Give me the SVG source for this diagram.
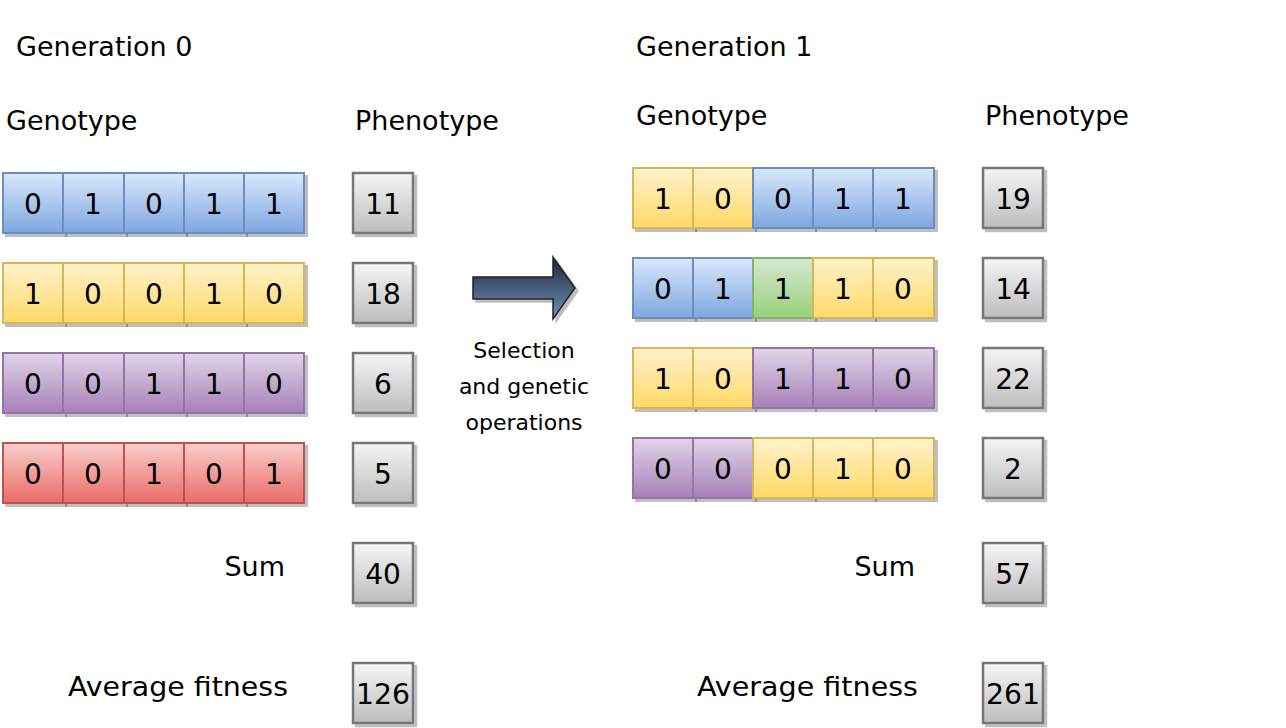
<svg xmlns="http://www.w3.org/2000/svg" width="1286" height="728" viewBox="0 0 1286 728">
<defs>
<linearGradient id="gb" x1="0" y1="0" x2="0" y2="1"><stop offset="0" stop-color="#dae8fc"/><stop offset="1" stop-color="#7ea6e0"/></linearGradient>
<linearGradient id="gy" x1="0" y1="0" x2="0" y2="1"><stop offset="0" stop-color="#fff2cc"/><stop offset="1" stop-color="#ffd966"/></linearGradient>
<linearGradient id="gp" x1="0" y1="0" x2="0" y2="1"><stop offset="0" stop-color="#e1d5e7"/><stop offset="1" stop-color="#a680b8"/></linearGradient>
<linearGradient id="gr" x1="0" y1="0" x2="0" y2="1"><stop offset="0" stop-color="#f8cecc"/><stop offset="1" stop-color="#ea6b66"/></linearGradient>
<linearGradient id="gg" x1="0" y1="0" x2="0" y2="1"><stop offset="0" stop-color="#d5e8d4"/><stop offset="1" stop-color="#97d077"/></linearGradient>
<linearGradient id="gs" x1="0" y1="0" x2="0" y2="1"><stop offset="0" stop-color="#f5f5f5"/><stop offset="1" stop-color="#bdbdbd"/></linearGradient>
<linearGradient id="ga" x1="0" y1="0" x2="0" y2="1"><stop offset="0" stop-color="#1c2838"/><stop offset="1" stop-color="#7090b8"/></linearGradient>
<filter id="sh" x="-10%" y="-10%" width="130%" height="130%"><feDropShadow dx="3" dy="3" stdDeviation="0.6" flood-color="#000" flood-opacity="0.25"/></filter>
</defs>
<style>
text{font-family:"DejaVu Sans","Liberation Sans",sans-serif;fill:#000}
.t{font-size:27px}
.d{font-size:28px;text-anchor:middle}
.c{stroke-width:2;filter:url(#sh)}
.b{fill:url(#gb);stroke:#6c8ebf}
.y{fill:url(#gy);stroke:#d6b656}
.p{fill:url(#gp);stroke:#9673a6}
.r{fill:url(#gr);stroke:#b85450}
.g{fill:url(#gg);stroke:#82b366}
.s{fill:url(#gs);stroke:#777777;stroke-width:2.5}
.l{font-size:22px;text-anchor:middle}
</style>

<g id="labels">
<text class="t" x="16" y="56">Generation 0</text>
<text class="t" x="6" y="130">Genotype</text>
<text class="t" x="355" y="130">Phenotype</text>
<text class="t" x="285" y="576" text-anchor="end">Sum</text>
<text class="t" x="68" y="696" textLength="220" lengthAdjust="spacingAndGlyphs">Average fitness</text>
<text class="t" x="636" y="56">Generation 1</text>
<text class="t" x="636" y="125">Genotype</text>
<text class="t" x="985" y="125">Phenotype</text>
<text class="t" x="915" y="576" text-anchor="end">Sum</text>
<text class="t" x="697" y="696" textLength="221" lengthAdjust="spacingAndGlyphs">Average fitness</text>
</g>

<g id="g0-row1">
<rect class="c b" x="3" y="173" width="60" height="60"/><rect class="c b" x="63" y="173" width="61" height="60"/><rect class="c b" x="124" y="173" width="60" height="60"/><rect class="c b" x="184" y="173" width="60" height="60"/><rect class="c b" x="244" y="173" width="60" height="60"/>
<text class="d" x="33" y="214">0</text><text class="d" x="93" y="214">1</text><text class="d" x="154" y="214">0</text><text class="d" x="214" y="214">1</text><text class="d" x="274" y="214">1</text>
</g>
<g id="g0-row2">
<rect class="c y" x="3" y="263" width="60" height="60"/><rect class="c y" x="63" y="263" width="61" height="60"/><rect class="c y" x="124" y="263" width="60" height="60"/><rect class="c y" x="184" y="263" width="60" height="60"/><rect class="c y" x="244" y="263" width="60" height="60"/>
<text class="d" x="33" y="304">1</text><text class="d" x="93" y="304">0</text><text class="d" x="154" y="304">0</text><text class="d" x="214" y="304">1</text><text class="d" x="274" y="304">0</text>
</g>
<g id="g0-row3">
<rect class="c p" x="3" y="353" width="60" height="60"/><rect class="c p" x="63" y="353" width="61" height="60"/><rect class="c p" x="124" y="353" width="60" height="60"/><rect class="c p" x="184" y="353" width="60" height="60"/><rect class="c p" x="244" y="353" width="60" height="60"/>
<text class="d" x="33" y="394">0</text><text class="d" x="93" y="394">0</text><text class="d" x="154" y="394">1</text><text class="d" x="214" y="394">1</text><text class="d" x="274" y="394">0</text>
</g>
<g id="g0-row4">
<rect class="c r" x="3" y="443" width="60" height="60"/><rect class="c r" x="63" y="443" width="61" height="60"/><rect class="c r" x="124" y="443" width="60" height="60"/><rect class="c r" x="184" y="443" width="60" height="60"/><rect class="c r" x="244" y="443" width="60" height="60"/>
<text class="d" x="33" y="484">0</text><text class="d" x="93" y="484">0</text><text class="d" x="154" y="484">1</text><text class="d" x="214" y="484">0</text><text class="d" x="274" y="484">1</text>
</g>

<g id="g0-pheno1"><rect class="c s" x="353" y="173" width="60" height="60"/><text class="d" x="383" y="214">11</text></g>
<g id="g0-pheno2"><rect class="c s" x="353" y="263" width="60" height="60"/><text class="d" x="383" y="304">18</text></g>
<g id="g0-pheno3"><rect class="c s" x="353" y="353" width="60" height="60"/><text class="d" x="383" y="394">6</text></g>
<g id="g0-pheno4"><rect class="c s" x="353" y="443" width="60" height="60"/><text class="d" x="383" y="484">5</text></g>
<g id="g0-sum"><rect class="c s" x="353" y="543" width="60" height="60"/><text class="d" x="383" y="584">40</text></g>
<g id="g0-avg"><rect class="c s" x="353" y="663" width="60" height="60"/><text class="d" x="383" y="704" textLength="54" lengthAdjust="spacingAndGlyphs">126</text></g>

<g id="g1-row1">
<rect class="c y" x="633" y="168" width="60" height="60"/><rect class="c y" x="693" y="168" width="60" height="60"/><rect class="c b" x="753" y="168" width="60" height="60"/><rect class="c b" x="813" y="168" width="60" height="60"/><rect class="c b" x="873" y="168" width="61" height="60"/>
<text class="d" x="663" y="209">1</text><text class="d" x="723" y="209">0</text><text class="d" x="783" y="209">0</text><text class="d" x="843" y="209">1</text><text class="d" x="903" y="209">1</text>
</g>
<g id="g1-row2">
<rect class="c b" x="633" y="258" width="60" height="60"/><rect class="c b" x="693" y="258" width="60" height="60"/><rect class="c g" x="753" y="258" width="60" height="60"/><rect class="c y" x="813" y="258" width="60" height="60"/><rect class="c y" x="873" y="258" width="61" height="60"/>
<text class="d" x="663" y="299">0</text><text class="d" x="723" y="299">1</text><text class="d" x="783" y="299">1</text><text class="d" x="843" y="299">1</text><text class="d" x="903" y="299">0</text>
</g>
<g id="g1-row3">
<rect class="c y" x="633" y="348" width="60" height="60"/><rect class="c y" x="693" y="348" width="60" height="60"/><rect class="c p" x="753" y="348" width="60" height="60"/><rect class="c p" x="813" y="348" width="60" height="60"/><rect class="c p" x="873" y="348" width="61" height="60"/>
<text class="d" x="663" y="389">1</text><text class="d" x="723" y="389">0</text><text class="d" x="783" y="389">1</text><text class="d" x="843" y="389">1</text><text class="d" x="903" y="389">0</text>
</g>
<g id="g1-row4">
<rect class="c p" x="633" y="438" width="60" height="60"/><rect class="c p" x="693" y="438" width="60" height="60"/><rect class="c y" x="753" y="438" width="60" height="60"/><rect class="c y" x="813" y="438" width="60" height="60"/><rect class="c y" x="873" y="438" width="61" height="60"/>
<text class="d" x="663" y="479">0</text><text class="d" x="723" y="479">0</text><text class="d" x="783" y="479">0</text><text class="d" x="843" y="479">1</text><text class="d" x="903" y="479">0</text>
</g>

<g id="g1-pheno1"><rect class="c s" x="983" y="168" width="60" height="60"/><text class="d" x="1013" y="209">19</text></g>
<g id="g1-pheno2"><rect class="c s" x="983" y="258" width="60" height="60"/><text class="d" x="1013" y="299">14</text></g>
<g id="g1-pheno3"><rect class="c s" x="983" y="348" width="60" height="60"/><text class="d" x="1013" y="389">22</text></g>
<g id="g1-pheno4"><rect class="c s" x="983" y="438" width="60" height="60"/><text class="d" x="1013" y="479">2</text></g>
<g id="g1-sum"><rect class="c s" x="983" y="543" width="60" height="60"/><text class="d" x="1013" y="584">57</text></g>
<g id="g1-avg"><rect class="c s" x="983" y="663" width="60" height="60"/><text class="d" x="1013" y="704" textLength="54" lengthAdjust="spacingAndGlyphs">261</text></g>

<g id="connectors">
<path d="M473,277 L553,277 L553,257 L575,288 L553,319 L553,299 L473,299 Z" fill="url(#ga)" stroke="#222" stroke-width="1.5" filter="url(#sh)"/>
<text class="l" x="524" y="358">Selection</text>
<text class="l" x="524" y="394">and genetic</text>
<text class="l" x="524" y="430">operations</text>
</g>
</svg>
